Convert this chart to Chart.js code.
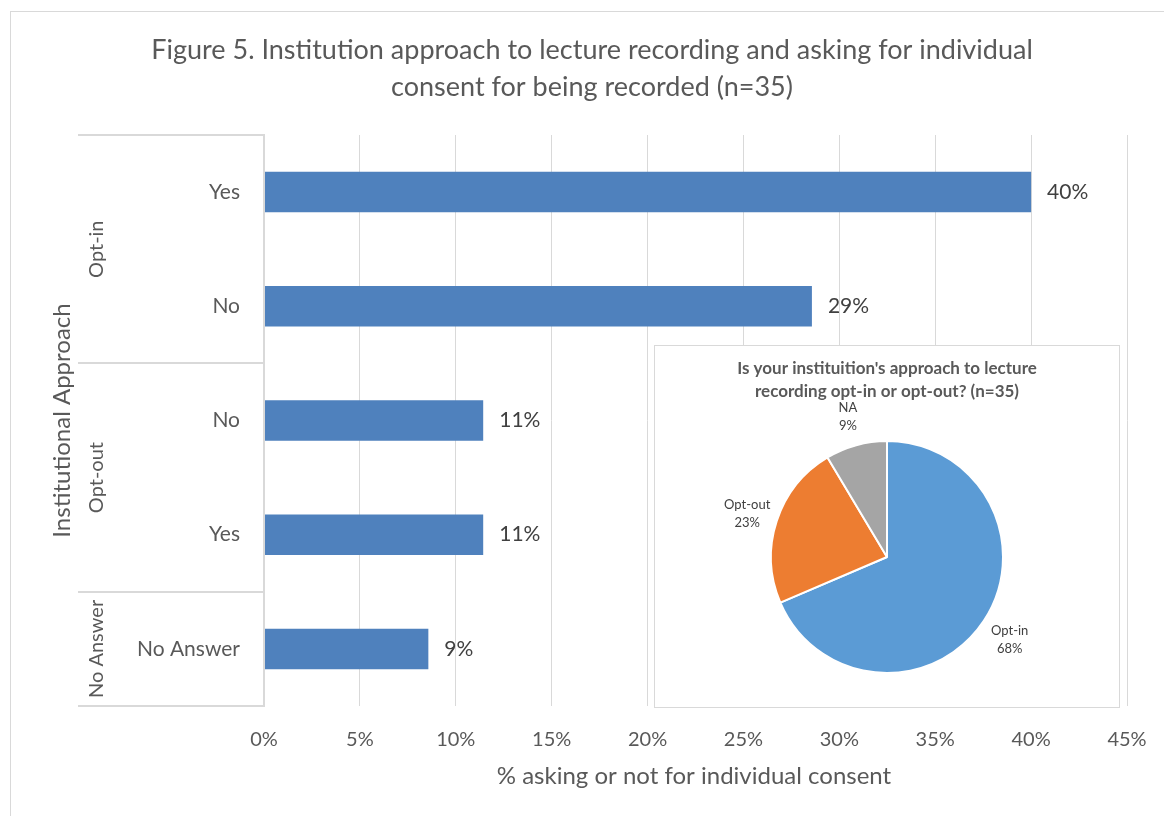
<!DOCTYPE html>
<html>
<head>
<meta charset="utf-8">
<script src="https://cdn.jsdelivr.net/npm/chart.js@4.4.1/dist/chart.umd.min.js"></script>
<style>
  html, body { margin: 0; padding: 0; background: #ffffff; }
  #wrap { position: relative; width: 1164px; height: 816px; }
  #main { position: absolute; left: 0; top: 0; }
  #inset { position: absolute; left: 654px; top: 345px; width: 466px; height: 363px; background: #ffffff; }
</style>
</head>
<body>
<div id="wrap">
  <canvas id="main" width="1164" height="816"></canvas>
  <div id="inset"><canvas id="pie" width="466" height="363"></canvas></div>
</div>
<script>
// ---- Data ----
const chartTitle = ['Figure 5. Institution approach to lecture recording and asking for individual', 'consent for being recorded (n=35)'];
const categories = ['Yes', 'No', 'No', 'Yes', 'No Answer'];
const groupNames = ['Opt-in', 'Opt-out', 'No Answer'];
const groupSizes = [2, 2, 1];
const values = [40.00, 28.57, 11.43, 11.43, 8.57];
const valueLabels = ['40%', '29%', '11%', '11%', '9%'];
const xTickValues = [0, 5, 10, 15, 20, 25, 30, 35, 40, 45];
const xAxisTitle = '% asking or not for individual consent';
const yAxisTitle = 'Institutional Approach';

const pieTitle = ["Is your instituition's approach to lecture", 'recording opt-in or opt-out? (n=35)'];
const pieLabels = ['Opt-in', 'Opt-out', 'NA'];
const pieValues = [24, 8, 3];
const piePctLabels = ['68%', '23%', '9%'];

// ---- Styles ----
const FONT = 'Lato, "Open Sans", sans-serif';
const TXT = '#595959';
const GRID = '#D9D9D9';
const BAR = '#4F81BD';
const PIE_COLORS = ['#5B9BD5', '#ED7D31', '#A5A5A5'];

const decorPlugin = {
  id: 'decor',
  beforeDraw(chart) {
    const ctx = chart.ctx;
    ctx.save();
    ctx.fillStyle = '#ffffff';
    ctx.fillRect(0, 0, chart.width, chart.height);
    ctx.strokeStyle = GRID;
    ctx.lineWidth = 1;
    ctx.strokeRect(10.5, 11.5, 1200, 900);
    ctx.restore();
  },
  afterDraw(chart) {
    const ctx = chart.ctx;
    const area = chart.chartArea;
    const y = chart.scales.y;
    ctx.save();
    // title
    ctx.fillStyle = TXT;
    ctx.font = '27px ' + FONT;
    ctx.textAlign = 'center';
    ctx.textBaseline = 'middle';
    ctx.fillText(chartTitle[0], 592, 50);
    ctx.fillText(chartTitle[1], 592, 87);

    // axis line
    ctx.strokeStyle = GRID;
    ctx.lineWidth = 2;
    ctx.beginPath();
    ctx.moveTo(area.left, area.top - 1);
    ctx.lineTo(area.left, area.bottom + 1);
    ctx.stroke();

    // group separators
    const bounds = [area.top];
    let idx = 0;
    groupSizes.forEach((n) => {
      idx += n;
      if (idx < categories.length) {
        bounds.push((y.getPixelForTick(idx - 1) + y.getPixelForTick(idx)) / 2);
      } else {
        bounds.push(area.bottom);
      }
    });
    bounds.forEach(b => {
      const yy = Math.round(b);
      ctx.beginPath();
      ctx.moveTo(78, yy);
      ctx.lineTo(area.left, yy);
      ctx.stroke();
    });
    // group labels
    ctx.fillStyle = TXT;
    ctx.font = '20px ' + FONT;
    groupNames.forEach((g, i) => {
      const cy = (bounds[i] + bounds[i + 1]) / 2;
      ctx.save();
      ctx.translate(97, cy);
      ctx.rotate(-Math.PI / 2);
      ctx.textAlign = 'center';
      ctx.textBaseline = 'middle';
      ctx.fillText(g, 0, 0);
      ctx.restore();
    });
    // y axis title
    ctx.save();
    ctx.font = '24px ' + FONT;
    ctx.translate(62, (area.top + area.bottom) / 2);
    ctx.rotate(-Math.PI / 2);
    ctx.textAlign = 'center';
    ctx.textBaseline = 'middle';
    ctx.fillText(yAxisTitle, 0, 0);
    ctx.restore();
    // x axis title
    ctx.font = '24px ' + FONT;
    ctx.textAlign = 'center';
    ctx.textBaseline = 'middle';
    ctx.fillText(xAxisTitle, 694, 776);

    // value labels
    const meta = chart.getDatasetMeta(0);
    ctx.font = '21px ' + FONT;
    ctx.fillStyle = '#404040';
    ctx.textAlign = 'left';
    meta.data.forEach((bar, i) => {
      ctx.fillText(valueLabels[i], bar.x + 16, bar.y);
    });
    ctx.restore();
  }
};

new Chart(document.getElementById('main'), {
  type: 'bar',
  data: {
    labels: categories,
    datasets: [{
      data: values,
      backgroundColor: BAR,
      borderWidth: 0,
      categoryPercentage: 1,
      barPercentage: 0.355
    }]
  },
  plugins: [decorPlugin],
  options: {
    indexAxis: 'y',
    responsive: false,
    animation: false,
    events: [],
    layout: { padding: { top: 135, right: 37, left: 0, bottom: 0 } },
    plugins: { legend: { display: false }, title: { display: false }, tooltip: { enabled: false } },
    scales: {
      x: {
        min: 0, max: 45,
        afterBuildTicks(s) { s.ticks = xTickValues.map(v => ({ value: v })); },
        afterFit(s) { s.height = 110; s.paddingLeft = 0; s.paddingRight = 0; },
        grid: { color: GRID, drawTicks: false, lineWidth: 1 },
        border: { display: false },
        ticks: { color: TXT, font: { family: FONT, size: 20 }, padding: 22, callback: v => v + '%' }
      },
      y: {
        afterFit(s) { s.width = 264; s.paddingTop = 0; s.paddingBottom = 0; },
        grid: { display: false, drawTicks: false },
        border: { display: false },
        ticks: { color: TXT, font: { family: FONT, size: 21 }, padding: 24 }
      }
    }
  }
});

const pieDecor = {
  id: 'pieDecor',
  beforeDraw(chart) {
    const ctx = chart.ctx;
    ctx.save();
    ctx.fillStyle = '#ffffff';
    ctx.fillRect(0, 0, chart.width, chart.height);
    ctx.strokeStyle = GRID;
    ctx.lineWidth = 1;
    ctx.strokeRect(0.5, 0.5, chart.width - 1, chart.height - 1);
    ctx.fillStyle = TXT;
    ctx.font = 'bold 17px ' + FONT;
    ctx.textAlign = 'center';
    ctx.textBaseline = 'middle';
    ctx.fillText(pieTitle[0], chart.width / 2, 24);
    ctx.fillText(pieTitle[1], chart.width / 2, 47);
    ctx.restore();
  },
  afterDraw(chart) {
    const ctx = chart.ctx;
    const meta = chart.getDatasetMeta(0);
    ctx.save();
    ctx.fillStyle = '#404040';
    ctx.font = '13px ' + FONT;
    ctx.textAlign = 'center';
    ctx.textBaseline = 'middle';
    meta.data.forEach((arc, i) => {
      const mid = (arc.startAngle + arc.endAngle) / 2;
      const r = arc.outerRadius + 31;
      const x = arc.x + Math.cos(mid) * r;
      const yy = arc.y + Math.sin(mid) * r;
      ctx.fillText(pieLabels[i], x, yy - 7);
      ctx.fillText(piePctLabels[i], x, yy + 11);
    });
    ctx.restore();
  }
};

new Chart(document.getElementById('pie'), {
  type: 'pie',
  data: {
    labels: pieLabels,
    datasets: [{
      data: pieValues,
      backgroundColor: PIE_COLORS,
      borderColor: '#ffffff',
      borderWidth: 2
    }]
  },
  plugins: [pieDecor],
  options: {
    responsive: false,
    animation: false,
    events: [],
    radius: 116,
    layout: { padding: { top: 96, bottom: 35, left: 0, right: 0 } },
    plugins: { legend: { display: false }, title: { display: false }, tooltip: { enabled: false } }
  }
});
</script>
</body>
</html>
